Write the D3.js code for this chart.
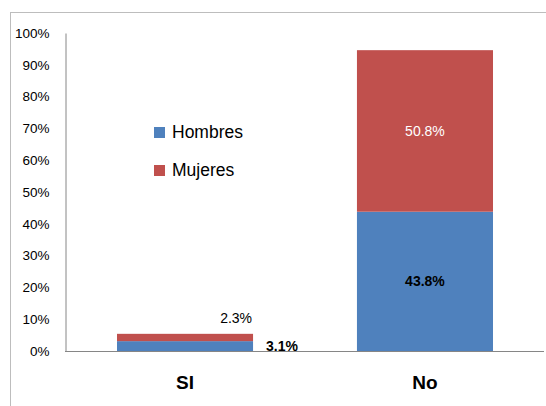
<!DOCTYPE html>
<html>
<head>
<meta charset="utf-8">
<script src="https://cdn.jsdelivr.net/npm/d3@7"></script>
<style>
  body { margin: 0; background: #fff; }
  svg { display: block; font-family: "Liberation Sans", Arial, sans-serif; }
</style>
</head>
<body>
<svg id="chart"></svg>
<script>
const categories = ['SI', 'No'];
const seriesNames = ['Hombres', 'Mujeres'];
const hombres = [3.1, 43.8];
const mujeres = [2.3, 50.8];
const tickValues = [0, 10, 20, 30, 40, 50, 60, 70, 80, 90, 100];
const colors = ['#4F81BD', '#C0504D'];

const width = 546, height = 406;
const svg = d3.select('#chart').attr('width', width).attr('height', height);

// chart frame
svg.append('rect')
  .attr('x', 10.5).attr('y', 12.5)
  .attr('width', width).attr('height', height)
  .attr('fill', 'none').attr('stroke', '#bdbdbd');

const table = categories.map((c, i) => ({ cat: c, Hombres: hombres[i], Mujeres: mujeres[i] }));
const stacked = d3.stack().keys(seriesNames)(table);

const y = d3.scaleLinear().domain([0, 100]).range([351, 33]);
const x = d3.scaleBand().domain(categories).range([65, 545])
  .paddingInner(0.433).paddingOuter(0.2167);

// y axis
const yAxis = svg.append('g')
  .attr('transform', 'translate(65.5,0)')
  .call(d3.axisLeft(y).tickValues(tickValues).tickSize(0).tickPadding(16).tickFormat(d => d + '%'));
yAxis.select('.domain').attr('stroke', '#868686');
yAxis.selectAll('text').attr('font-size', 13.5).attr('fill', '#000')
  .attr('font-family', '"Liberation Sans", Arial, sans-serif');

// bars
svg.append('g').selectAll('g').data(stacked).join('g')
  .attr('fill', (d, i) => colors[i])
  .selectAll('rect').data(d => d).join('rect')
  .attr('x', d => x(d.data.cat))
  .attr('y', d => y(d[1]))
  .attr('height', d => y(d[0]) - y(d[1]))
  .attr('width', x.bandwidth());

// x axis
const xAxis = svg.append('g')
  .attr('transform', 'translate(0,351.5)')
  .call(d3.axisBottom(x).tickSize(0).tickPadding(24));
xAxis.select('.domain').attr('stroke', '#868686').attr('d', 'M65,0H544');
xAxis.selectAll('text').attr('font-size', 19).attr('font-weight', 'bold').attr('fill', '#000')
  .attr('font-family', '"Liberation Sans", Arial, sans-serif');

// data labels
const lab = svg.append('g').attr('font-size', 14);
// SI
lab.append('text')
  .attr('x', x('SI') + x.bandwidth() - 1).attr('y', y(hombres[0] + mujeres[0]) - 11)
  .attr('text-anchor', 'end').attr('fill', '#000')
  .text(mujeres[0].toFixed(1) + '%');
lab.append('text')
  .attr('x', x('SI') + x.bandwidth() + 13).attr('y', y(hombres[0] / 2) + 5)
  .attr('font-weight', 'bold').attr('fill', '#000')
  .text(hombres[0].toFixed(1) + '%');
// No
lab.append('text')
  .attr('x', x('No') + x.bandwidth() / 2).attr('y', y(hombres[1] + mujeres[1] / 2) + 5)
  .attr('text-anchor', 'middle').attr('fill', '#fff')
  .text(mujeres[1].toFixed(1) + '%');
lab.append('text')
  .attr('x', x('No') + x.bandwidth() / 2).attr('y', y(hombres[1] / 2) + 5)
  .attr('text-anchor', 'middle').attr('font-weight', 'bold').attr('fill', '#000')
  .text(hombres[1].toFixed(1) + '%');

// legend
const legend = svg.append('g').selectAll('g').data(seriesNames).join('g')
  .attr('transform', (d, i) => `translate(154,${127 + i * 38})`);
legend.append('rect').attr('width', 11).attr('height', 11).attr('fill', (d, i) => colors[i]);
legend.append('text').attr('x', 18).attr('y', 11).attr('font-size', 17.5).attr('fill', '#000').text(d => d);
</script>
</body>
</html>
